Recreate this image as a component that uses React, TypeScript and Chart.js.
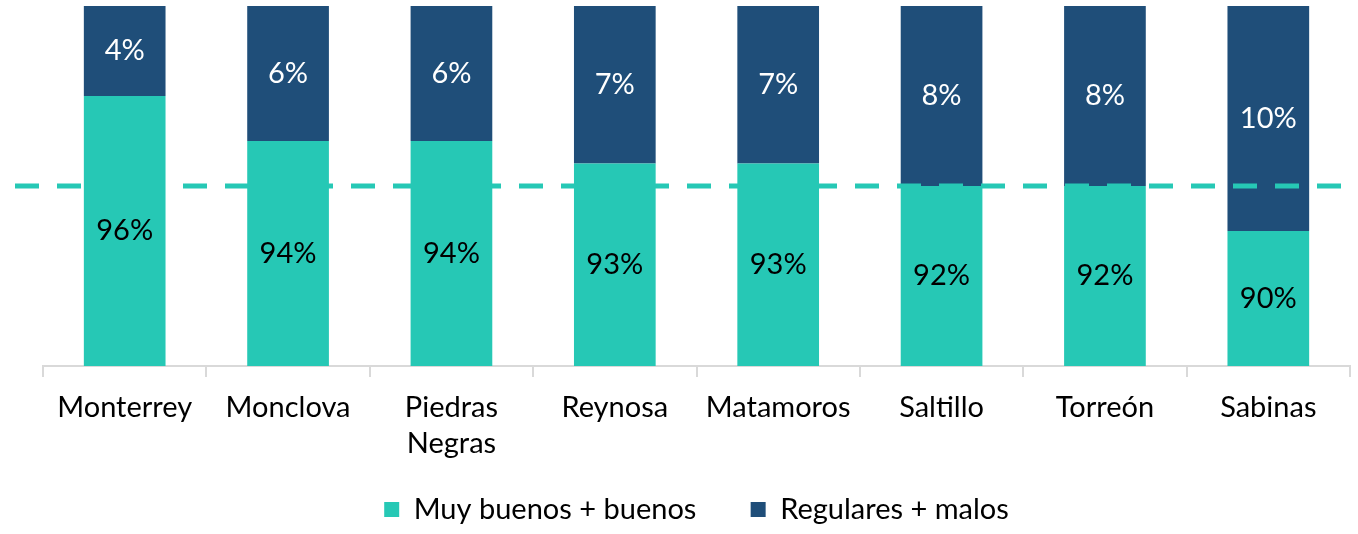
import React, { useEffect, useRef } from "react";
import { Chart, registerables } from "chart.js";

Chart.register(...registerables);

const categories: (string | string[])[] = [
  "Monterrey",
  "Monclova",
  ["Piedras", "Negras"],
  "Reynosa",
  "Matamoros",
  "Saltillo",
  "Torreón",
  "Sabinas",
];
const goodValues = [96, 94, 94, 93, 93, 92, 92, 90];
const badValues = [4, 6, 6, 7, 7, 8, 8, 10];
const seriesNames = ["Muy buenos + buenos", "Regulares + malos"];
const referenceValue = 92;
const yMin = 84;
const yMax = 100;

const GREEN = "#26C8B5";
const NAVY = "#1F4E79";
const FONT = "Lato, 'Open Sans', sans-serif";

const refLinePlugin = {
  id: "refLine",
  afterDatasetsDraw(chart: any) {
    const { ctx, chartArea, scales } = chart;
    const y = scales.y.getPixelForValue(referenceValue);
    ctx.save();
    ctx.strokeStyle = GREEN;
    ctx.lineWidth = 5;
    ctx.setLineDash([24, 18]);
    ctx.beginPath();
    ctx.moveTo(chartArea.left - 28, y);
    ctx.lineTo(chartArea.right - 5, y);
    ctx.stroke();
    ctx.restore();
  },
};

const labelPlugin = {
  id: "segLabels",
  afterDatasetsDraw(chart: any) {
    const { ctx, chartArea } = chart;
    ctx.save();
    ctx.font = `29px ${FONT}`;
    ctx.textAlign = "center";
    ctx.textBaseline = "middle";
    chart.data.datasets.forEach((ds: any, di: number) => {
      const meta = chart.getDatasetMeta(di);
      meta.data.forEach((el: any, i: number) => {
        const top = Math.max(Math.min(el.y, el.base), chartArea.top);
        const bottom = Math.min(Math.max(el.y, el.base), chartArea.bottom);
        const cy = (top + bottom) / 2;
        ctx.fillStyle = di === 0 ? "#000000" : "#FFFFFF";
        ctx.fillText(`${ds.data[i]}%`, el.x, cy);
      });
    });
    ctx.restore();
  },
};

export default function App() {
  const canvasRef = useRef<HTMLCanvasElement | null>(null);

  useEffect(() => {
    if (!canvasRef.current) return;
    const chart = new Chart(canvasRef.current, {
      type: "bar",
      data: {
        labels: categories,
        datasets: [
          {
            label: seriesNames[0],
            data: goodValues,
            backgroundColor: GREEN,
            borderWidth: 0,
            categoryPercentage: 1,
            barPercentage: 0.5,
          },
          {
            label: seriesNames[1],
            data: badValues,
            backgroundColor: NAVY,
            borderWidth: 0,
            categoryPercentage: 1,
            barPercentage: 0.5,
          },
        ],
      },
      options: {
        responsive: true,
        maintainAspectRatio: false,
        animation: false,
        layout: { padding: { left: 43, right: 8, top: 6, bottom: 0 } },
        scales: {
          x: {
            stacked: true,
            grid: {
              drawOnChartArea: false,
              drawTicks: true,
              tickLength: 11,
              color: "#D9D9D9",
              lineWidth: 2,
            },
            border: { display: true, color: "#D9D9D9", width: 2 },
            ticks: {
              color: "#000000",
              font: { family: FONT, size: 29, lineHeight: 1.24 },
              padding: 13,
              maxRotation: 0,
              autoSkip: false,
            },
            afterFit(scale: any) {
              scale.height = Math.min(scale.height, 97);
            },
          },
          y: {
            stacked: true,
            display: false,
            min: yMin,
            max: yMax,
          },
        },
        plugins: {
          legend: {
            position: "bottom",
            labels: {
              color: "#000000",
              font: { family: FONT, size: 29 },
              boxWidth: 15,
              boxHeight: 15,
              padding: 32,
              generateLabels(c: any) {
                const items = Chart.defaults.plugins.legend.labels.generateLabels(c);
                if (items.length > 0) items[0].text = items[0].text + "   ";
                return items;
              },
            },
          },
          tooltip: { enabled: false },
        },
      },
      plugins: [refLinePlugin, labelPlugin],
    });
    return () => chart.destroy();
  }, []);

  return (
    <div style={{ position: "fixed", left: 0, top: 0, width: 1358, height: 534, background: "#fff" }}>
      <canvas ref={canvasRef} />
    </div>
  );
}
